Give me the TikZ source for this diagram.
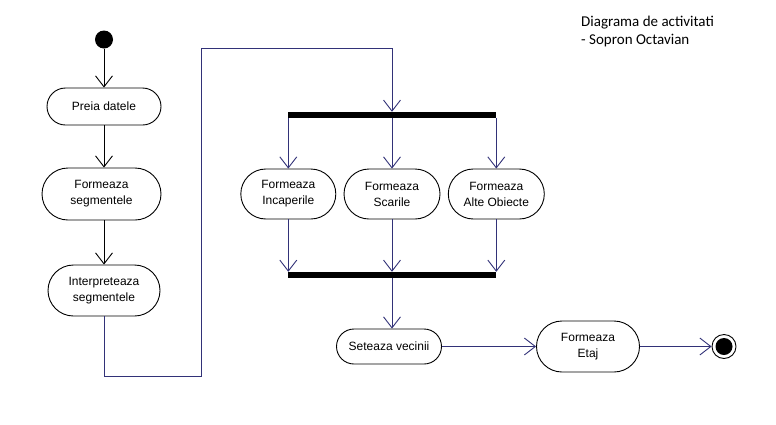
\documentclass[tikz,border=0pt]{standalone}
\usepackage{fontspec}
\setmainfont{Liberation Sans}
\newfontfamily\titlefont{Carlito}
\usetikzlibrary{arrows.meta,shapes.misc}
\definecolor{navy}{RGB}{50,50,120}
\begin{document}
\begin{tikzpicture}[x=1pt,y=-1pt,
 act/.style={rounded rectangle, draw=black, fill=white, line width=0.9pt, inner sep=0pt, align=center, font=\fontsize{12}{16}\selectfont},
 flow/.style={line width=0.9pt, -{Straight Barb[length=11pt,width=17pt]}},
 bar/.style={fill=black, inner sep=0pt, minimum width=208pt, minimum height=6pt},
 ttl/.style={anchor=base west, font=\titlefont\fontsize{15}{18}\selectfont, inner sep=0pt}
]
\useasboundingbox (0,0) rectangle (776,424);
\fill[white] (0,0) rectangle (776,424);

\node[ttl] (title1) at (581,26.5) {Diagrama de activitati};
\node[ttl] (title2) at (581,44.5) {- Sopron Octavian};

\node[circle, fill=black, minimum size=18pt, inner sep=0pt] (start) at (104,39.5) {};
\node[act, minimum width=114pt, minimum height=37pt] (preia) at (104,106.5) {Preia datele};
\node[act, minimum width=119pt, minimum height=52pt] (fseg) at (101.5,194) {Formeaza\\segmentele};
\node[act, minimum width=112pt, minimum height=51pt] (interp) at (104,290.5) {Interpreteaza\\segmentele};

\node[bar] (fork) at (392,115) {};
\node[act, minimum width=95pt, minimum height=50pt] (inc) at (288.3,194) {Formeaza\\Incaperile};
\node[act, minimum width=96pt, minimum height=50pt] (sca) at (392,194) {Formeaza\\Scarile};
\node[act, minimum width=96pt, minimum height=50pt] (alt) at (496.3,194) {Formeaza\\Alte Obiecte};
\node[bar] (join) at (392,275) {};

\node[act, minimum width=105pt, minimum height=35pt] (set) at (389,346.5) {Seteaza vecinii};
\node[act, minimum width=103pt, minimum height=51pt] (etaj) at (588,346.5) {Formeaza\\Etaj};
\node[circle, draw=black, line width=0.9pt, fill=white, minimum size=24pt, inner sep=0pt] (end) at (724,346.5) {};
\fill[black] (end.center) circle (8.5pt);

\coordinate (c1) at (201,376);
\coordinate (c2) at (201,48.5);

\draw[flow] (start) -- (preia);
\draw[flow] (preia.south) -- (preia.south |- fseg.north);
\draw[flow] (interp.north |- fseg.south) -- (interp.north);
\draw[line width=0.9pt, navy, -{Straight Barb[length=11pt,width=17pt]}] (interp.south) |- (c1) -- (c2) -| (fork.north);

\draw[flow, navy] (fork.south -| inc.north) -- (inc.north);
\draw[flow, navy] (fork.south) -- (sca.north);
\draw[flow, navy] (fork.south -| alt.north) -- (alt.north);
\draw[flow, navy] (inc.south) -- (inc.south |- join.north);
\draw[flow, navy] (sca.south) -- (join.north);
\draw[flow, navy] (alt.south) -- (alt.south |- join.north);
\draw[flow, navy] (join.south) -- (join.south |- set.north);
\draw[flow, navy] (set.east) -- (etaj.west);
\draw[flow, navy] (etaj.east) -- (end.west);
\end{tikzpicture}
\end{document}
